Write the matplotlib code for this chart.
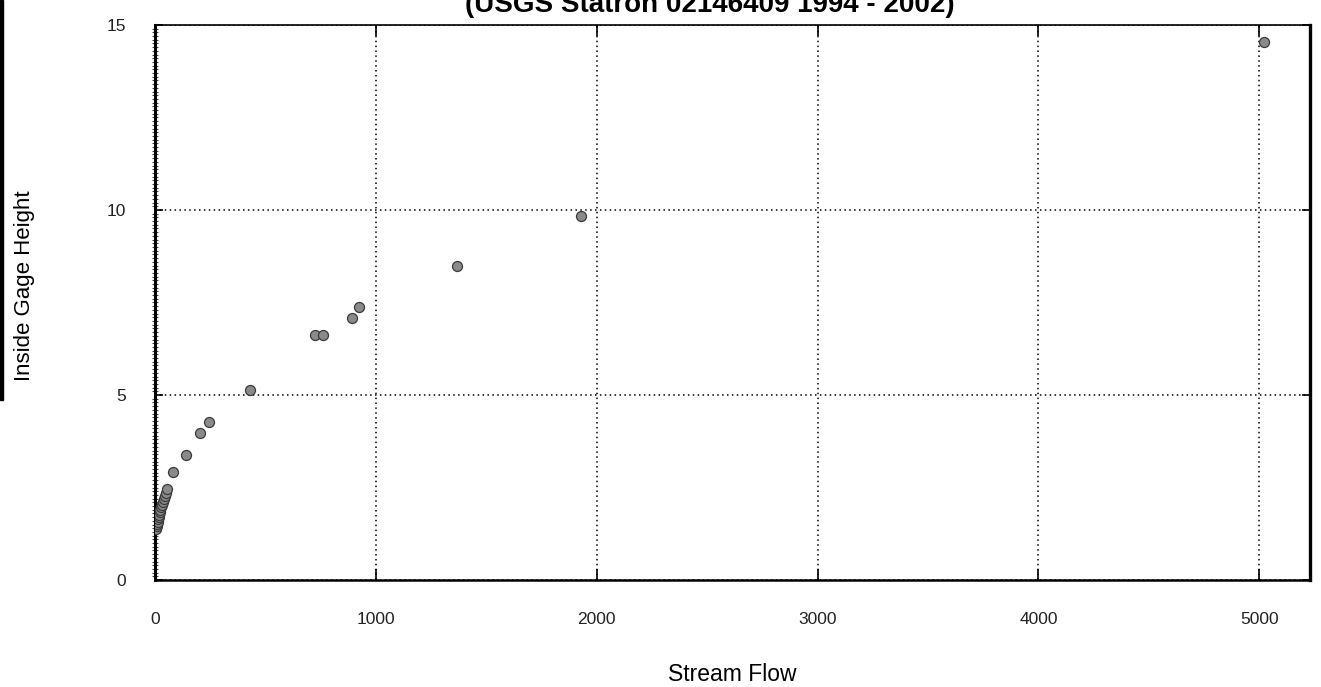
import matplotlib
matplotlib.use("Agg")
import matplotlib.pyplot as plt
from matplotlib.ticker import MultipleLocator
from matplotlib.patches import Rectangle

# rating-curve points: stream flow vs inside gage height
flow = [5, 8, 10, 12, 15, 18, 20, 22, 25, 28, 30, 35, 40, 45, 50, 55,
        81, 140, 204, 244, 430, 724, 760, 891, 923, 1367, 1927, 5020]
height = [1.38, 1.45, 1.52, 1.58, 1.64, 1.70, 1.76, 1.83, 1.90, 1.97, 2.03,
          2.10, 2.18, 2.26, 2.34, 2.45, 2.92, 3.39, 3.97, 4.28, 5.14, 6.62,
          6.62, 7.07, 7.39, 8.48, 9.84, 14.55]

x_ticks = [0, 1000, 2000, 3000, 4000, 5000]
y_ticks = [0, 5, 10, 15]

plt.rcParams['font.family'] = ['Liberation Sans', 'DejaVu Sans']

fig = plt.figure(figsize=(13.21, 6.87), dpi=100)
ax = fig.add_axes([0.1173, 1 - 580 / 687, 0.8744, 555 / 687])

ax.scatter(flow, height, s=52, c='#8a8a8a', edgecolors='#3a3a3a',
           linewidths=0.9, zorder=3)

ax.set_xlim(0, 5230)
ax.set_ylim(0, 15)
ax.set_xticks(x_ticks)
ax.set_yticks(y_ticks)
ax.yaxis.set_minor_locator(MultipleLocator(0.1))

ax.grid(True, which='major', color='black', linestyle=(0, (1, 2.2)),
        linewidth=1.1)

ax.tick_params(axis='x', which='major', direction='in', length=8, width=1.2,
               pad=23, labelsize=12.5, labelcolor='#222222', top=True)
ax.tick_params(axis='y', which='major', direction='in', length=6, width=1.2,
               pad=21, labelsize=12.5, labelcolor='#222222', right=True)
ax.tick_params(axis='y', which='minor', direction='inout', length=4,
               width=0.8, color='#444444')

ax.spines['left'].set_linewidth(2.2)
ax.spines['right'].set_linewidth(2.4)
ax.spines['bottom'].set_linewidth(1.8)
ax.spines['top'].set_linewidth(1.2)

ax.set_xlabel("Stream Flow", fontsize=16.5, labelpad=26)
ax.set_ylabel("Inside Gage Height", fontsize=16)
ax.yaxis.set_label_coords(-0.104, 0.53)

fig.text(710 / 1321, 1 - 12 / 687, "(USGS Statron 02146409 1994 - 2002)",
         fontsize=20, fontweight='bold', ha='center', va='baseline')

# dark scanner edge along the left border
fig.patches.append(Rectangle((0, 1 - 400 / 687), 3 / 1321, 400 / 687,
                             transform=fig.transFigure, color='black'))

plt.savefig("out.png", dpi=100)
